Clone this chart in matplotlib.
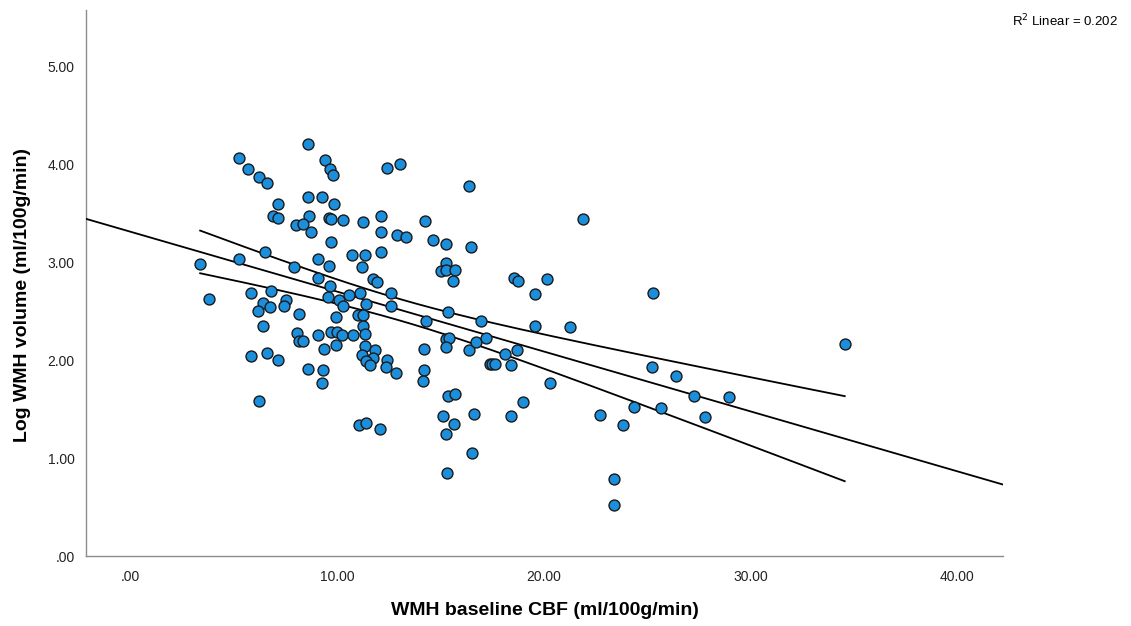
import numpy as np
import matplotlib
matplotlib.use("Agg")
import matplotlib.pyplot as plt

plt.rcParams['font.family'] = ['Liberation Sans', 'DejaVu Sans']

# WMH baseline CBF (ml/100g/min) for each subject
cbf = [
    8.58, 5.29, 9.42, 5.69, 9.67, 9.80, 6.22, 6.64, 8.58, 9.30,
    9.87, 7.17, 6.93, 7.16, 8.66, 9.60, 9.71, 10.29, 8.03, 8.35,
    8.74, 9.71, 6.53, 5.27, 3.39, 9.09, 9.61, 7.92, 9.11, 9.67,
    11.28, 12.14, 10.75, 11.38, 12.12, 11.22, 11.74, 11.93, 12.42, 13.04,
    16.38, 14.28, 12.15, 12.92, 13.32, 14.66, 15.28, 16.46, 15.28, 15.02,
    15.28, 15.72, 15.62, 18.57, 18.74, 3.82, 5.87, 6.82, 6.43, 6.79,
    6.18, 7.53, 7.46, 6.43, 8.19, 8.09, 8.16, 8.38, 9.09, 9.71,
    9.99, 9.38, 9.94, 9.98, 5.84, 6.64, 7.17, 8.62, 9.33, 9.30,
    6.22, 9.56, 10.12, 10.32, 10.59, 11.14, 11.41, 11.03, 11.28, 11.26,
    10.24, 10.79, 11.37, 11.38, 11.21, 11.83, 11.77, 11.41, 11.58, 12.42,
    12.38, 12.85, 12.64, 12.64, 11.09, 11.39, 12.09, 15.35, 14.30, 16.98,
    14.23, 15.28, 15.43, 15.27, 16.38, 16.74, 17.19, 17.38, 14.23, 14.15,
    15.37, 15.71, 15.15, 15.65, 15.28, 16.62, 16.53, 15.30, 19.57, 19.59,
    18.73, 18.14, 17.49, 17.65, 18.43, 19.01, 18.44, 20.28, 21.90, 20.18,
    25.28, 21.28, 25.25, 26.41, 27.25, 28.94, 24.34, 25.68, 27.78, 22.70,
    23.85, 23.38, 23.38, 34.55,
]

# Log WMH volume for the same subjects
log_wmh = [
    4.21, 4.07, 4.05, 3.96, 3.96, 3.89, 3.87, 3.81, 3.67, 3.67,
    3.60, 3.60, 3.47, 3.45, 3.47, 3.45, 3.44, 3.43, 3.38, 3.39,
    3.31, 3.21, 3.11, 3.04, 2.98, 3.04, 2.96, 2.95, 2.84, 2.76,
    3.41, 3.47, 3.08, 3.08, 3.11, 2.95, 2.83, 2.80, 3.97, 4.01,
    3.78, 3.42, 3.31, 3.28, 3.26, 3.23, 3.19, 3.16, 2.99, 2.91,
    2.92, 2.92, 2.81, 2.84, 2.81, 2.63, 2.69, 2.71, 2.59, 2.54,
    2.50, 2.62, 2.56, 2.35, 2.47, 2.28, 2.20, 2.20, 2.26, 2.29,
    2.29, 2.12, 2.16, 2.44, 2.04, 2.07, 2.00, 1.91, 1.90, 1.77,
    1.58, 2.65, 2.62, 2.56, 2.67, 2.69, 2.58, 2.46, 2.46, 2.35,
    2.26, 2.26, 2.27, 2.15, 2.05, 2.11, 2.02, 1.99, 1.95, 2.00,
    1.93, 1.87, 2.69, 2.56, 1.34, 1.36, 1.30, 2.49, 2.40, 2.40,
    2.12, 2.22, 2.23, 2.14, 2.11, 2.19, 2.23, 1.96, 1.90, 1.79,
    1.64, 1.66, 1.43, 1.35, 1.25, 1.45, 1.05, 0.85, 2.68, 2.35,
    2.11, 2.06, 1.96, 1.96, 1.95, 1.57, 1.43, 1.77, 3.44, 2.83,
    2.69, 2.34, 1.93, 1.84, 1.64, 1.63, 1.52, 1.51, 1.42, 1.44,
    1.34, 0.79, 0.52, 2.17,
]

# reported goodness of fit of the linear model
r_squared = 0.202

x_ticks = [0, 10, 20, 30, 40]
x_tick_labels = ['.00', '10.00', '20.00', '30.00', '40.00']
y_ticks = [0, 1, 2, 3, 4, 5]
y_tick_labels = ['.00', '1.00', '2.00', '3.00', '4.00', '5.00']

x = np.asarray(cbf)
y = np.asarray(log_wmh)

# Ordinary least squares fit and 95% confidence band for the mean
slope, intercept = np.polyfit(x, y, 1)
n = len(x)
resid = y - (intercept + slope * x)
s = np.sqrt(np.sum(resid ** 2) / (n - 2))
sxx = np.sum((x - x.mean()) ** 2)
t_crit = 1.976

fig = plt.figure(figsize=(11.31, 6.26), dpi=100)
ax = fig.add_axes([0.076, 0.1118, 0.8108, 0.8722])

xlim = (-2.13, 42.2)
ax.set_xlim(*xlim)
ax.set_ylim(0, 5.58)

# fit line across the full axis
xf = np.linspace(*xlim, 200)
ax.plot(xf, intercept + slope * xf, color='black', lw=1.3, zorder=3)

# confidence band over the data range
xb = np.linspace(x.min(), x.max(), 200)
half = t_crit * s * np.sqrt(1.0 / n + (xb - x.mean()) ** 2 / sxx)
yb = intercept + slope * xb
ax.plot(xb, yb + half, color='black', lw=1.3, zorder=3)
ax.plot(xb, yb - half, color='black', lw=1.3, zorder=3)

ax.scatter(x, y, s=62, facecolor='#1B8FDB', edgecolor='#1a1a1a',
           linewidth=1.0, zorder=4)

ax.set_xticks(x_ticks)
ax.set_xticklabels(x_tick_labels)
ax.set_yticks(y_ticks)
ax.set_yticklabels(y_tick_labels)
ax.tick_params(length=0, labelsize=10, colors='#222222')
ax.tick_params(axis='x', pad=10)
ax.tick_params(axis='y', pad=8)

for side in ('top', 'right'):
    ax.spines[side].set_visible(False)
for side in ('left', 'bottom'):
    ax.spines[side].set_color('#8c8c8c')
    ax.spines[side].set_linewidth(1.0)

ax.set_xlabel('WMH baseline CBF (ml/100g/min)', fontsize=14, fontweight='bold')
ax.xaxis.set_label_coords(0.5005, -0.1)
ax.xaxis.label.set_va('center')
ax.set_ylabel('Log WMH volume (ml/100g/min)', fontsize=14, fontweight='bold')
ax.yaxis.set_label_coords(-0.069, 0.478)
ax.yaxis.label.set_va('center')

fig.text(0.9885, 0.966, 'R$^2$ Linear = %.3f' % r_squared, ha='right',
         va='center', fontsize=9.5)

fig.savefig('out.png', dpi=100, facecolor='white')
